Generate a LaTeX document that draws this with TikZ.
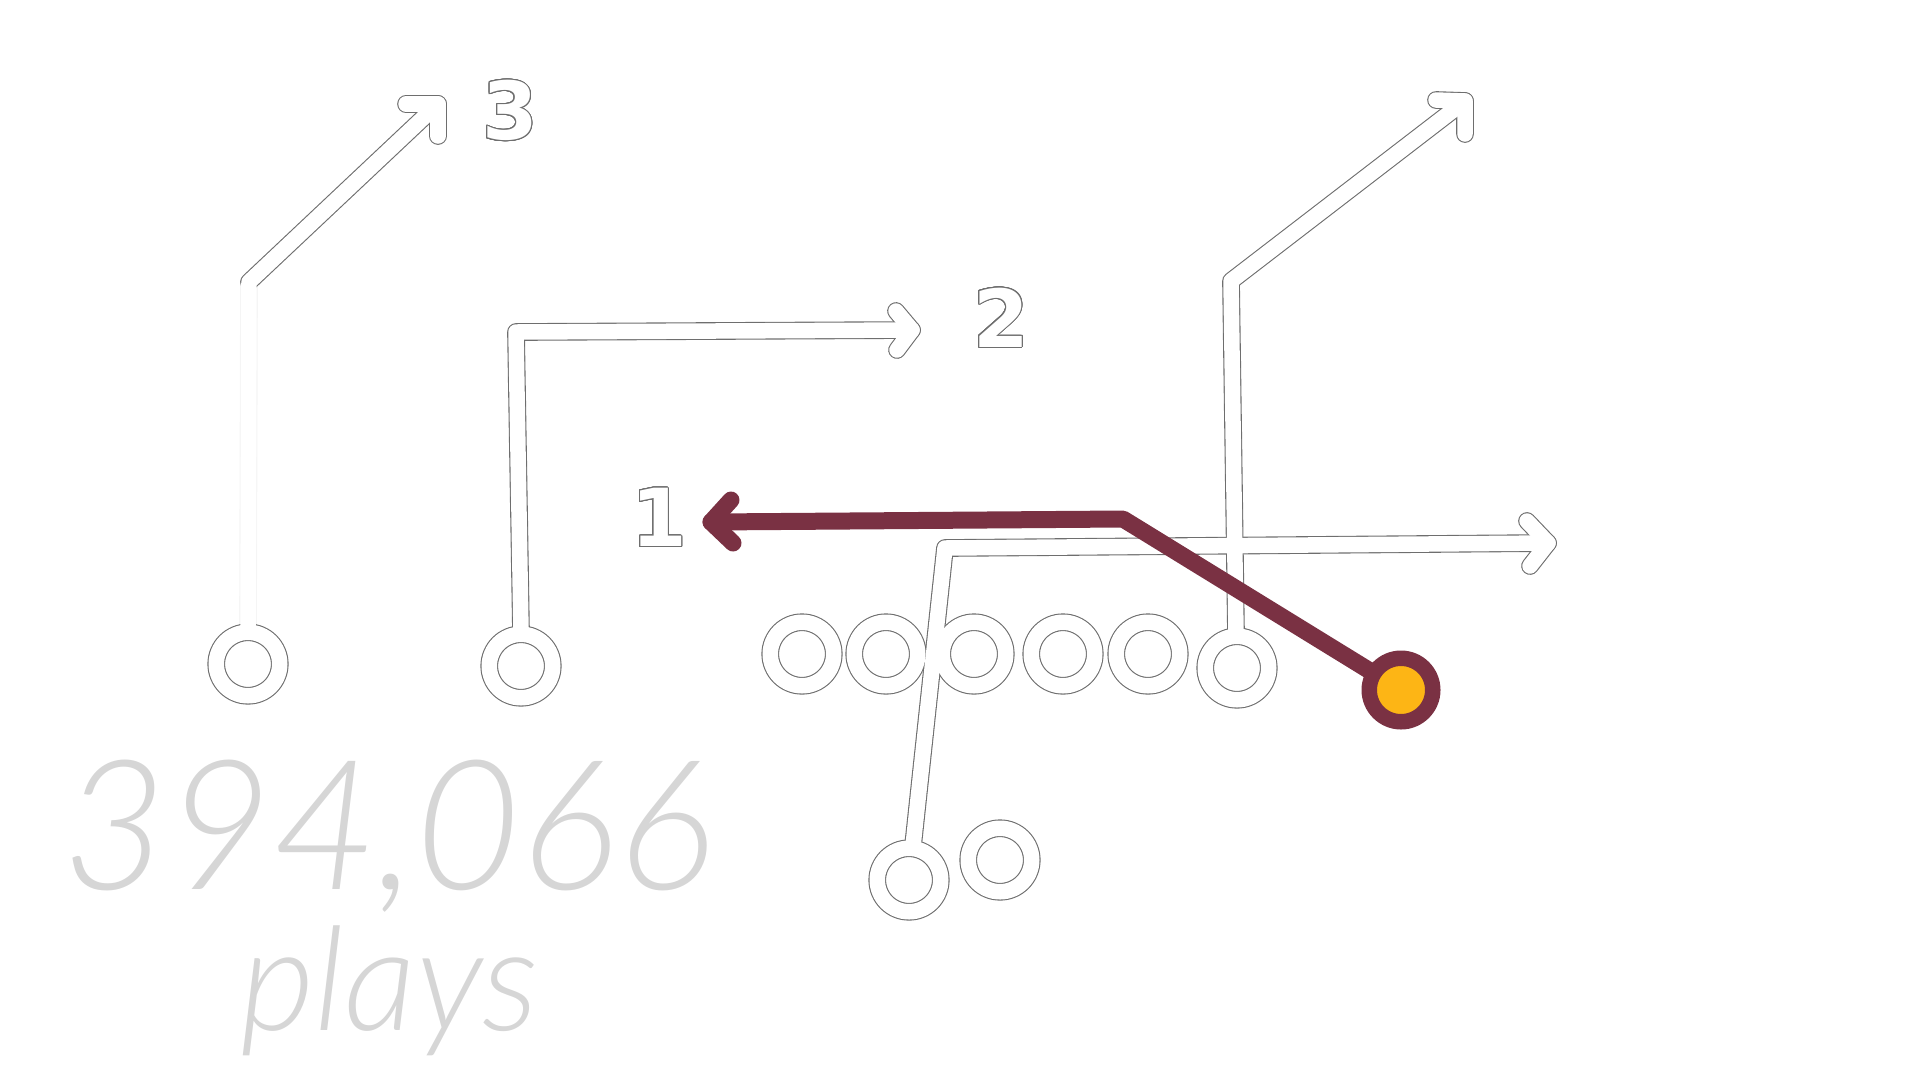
\documentclass[tikz,border=0pt]{standalone}
\usepackage{fontspec}
\usepackage{contour}
\usetikzlibrary{calc}
\newfontfamily\numfont{Lato Light Italic}
\newfontfamily\labfont{DejaVu Sans Bold}
\definecolor{maroon}{HTML}{7A3143}
\definecolor{gold}{HTML}{FDB515}
\definecolor{numgray}{HTML}{D6D6D6}
\definecolor{rim}{HTML}{6E6E6E}
\contourlength{1.1pt}
\contournumber{24}
\tikzset{
  rimline/.style={draw=rim, line width=17.7pt, line cap=round, line join=round},
  faintrim/.style={draw=rim!7, line width=17.7pt, line cap=round, line join=round},
  whiteline/.style={draw=white, line width=15.5pt, line cap=round, line join=round},
  ringrim/.style={draw=rim, line width=17.7pt},
  ringwhite/.style={draw=white, line width=15.5pt},
  maroonline/.style={draw=maroon, line width=17pt, line cap=round, line join=round},
  qbring/.style={draw=maroon, line width=15.5pt, fill=gold},
  digitlabel/.style={text=white, inner sep=0pt, font={\labfont\fontsize{80pt}{80pt}\selectfont}},
  bignum/.style={text=numgray, inner sep=0pt, font={\numfont\fontsize{181pt}{181pt}\selectfont}},
  smallword/.style={text=numgray, inner sep=0pt, font={\numfont\fontsize{144pt}{144pt}\selectfont}}
}
\begin{document}
\begin{tikzpicture}[x=1pt,y=-1pt]
\useasboundingbox (0,0) rectangle (1920,1080);
% players
\coordinate (p1) at (248,664);
\coordinate (p2) at (521,666);
\coordinate (o1) at (802,654);
\coordinate (o2) at (886,654);
\coordinate (o3) at (974,654);
\coordinate (o4) at (1063,654);
\coordinate (o5) at (1148,654);
\coordinate (o6) at (1237,668);
\coordinate (b1) at (909,880);
\coordinate (b2) at (1000,860);
\coordinate (qb) at (1401,690);
% route points
\coordinate (r3s) at (248,630);
\coordinate (r3c) at (249,282);
\coordinate (r3t) at (438,104);
\coordinate (r3a) at (406,104);
\coordinate (r3b) at (438,136);
\coordinate (r2s) at (521,632);
\coordinate (r2c) at (516,332);
\coordinate (r2t) at (912,330);
\coordinate (r2a) at (896,311);
\coordinate (r2b) at (897,350);
\coordinate (r4s) at (1236,634);
\coordinate (r4c) at (1231,281);
\coordinate (r4t) at (1465,101);
\coordinate (r4a) at (1436,100);
\coordinate (r4b) at (1465,134);
\coordinate (r5s) at (913,846);
\coordinate (r5c) at (945,548);
\coordinate (r5t) at (1548,543);
\coordinate (r5a) at (1527,521);
\coordinate (r5b) at (1530,566);
\coordinate (m1) at (1123,519);
\coordinate (m2) at (711,522);
\coordinate (ma) at (731,500);
\coordinate (mb) at (733,543);
% outline layer
\draw[faintrim] (r3s) -- (r3c);
\draw[rimline] (r3c) -- (r3t);
\draw[rimline] (r3a) -- (r3t) -- (r3b);
\draw[rimline] (r2s) -- (r2c) -- (r2t);
\draw[rimline] (r2a) -- (r2t) -- (r2b);
\draw[rimline] (r4s) -- (r4c) -- (r4t);
\draw[rimline] (r4a) -- (r4t) -- (r4b);
\draw[rimline] (r5s) -- (r5c) -- (r5t);
\draw[rimline] (r5a) -- (r5t) -- (r5b);
\foreach \p in {p1,p2,o1,o2,o3,o4,o5,o6,b1,b2}
  \draw[ringrim] (\p) circle[radius=31.75pt];
% white layer
\draw[whiteline] (r3s) -- (r3c) -- (r3t);
\draw[whiteline] (r3a) -- (r3t) -- (r3b);
\draw[whiteline] (r2s) -- (r2c) -- (r2t);
\draw[whiteline] (r2a) -- (r2t) -- (r2b);
\draw[whiteline] (r4s) -- (r4c) -- (r4t);
\draw[whiteline] (r4a) -- (r4t) -- (r4b);
\draw[whiteline] (r5s) -- (r5c) -- (r5t);
\draw[whiteline] (r5a) -- (r5t) -- (r5b);
\foreach \p in {p1,p2,o1,o2,o3,o4,o5,o6,b1,b2}
  \draw[ringwhite] (\p) circle[radius=31.75pt];
% labels
\node[digitlabel] (l3) at (510,111) {\contour{rim}{3}};
\node[digitlabel] (l2) at (1001,318) {\contour{rim}{2}};
\node[digitlabel] (l1) at (659,518) {\contour{rim}{1}};
% highlighted route
\draw[maroonline] (qb) -- (m1) -- (m2);
\draw[maroonline] (ma) -- (m2) -- (mb);
\draw[qbring] (qb) circle[radius=31.75pt];
% count
\node[bignum, anchor=base west] (count) at (62,889) {394,066};
\node[smallword, anchor=base west] (plays) at (240,1030) {plays};
\end{tikzpicture}
\end{document}
